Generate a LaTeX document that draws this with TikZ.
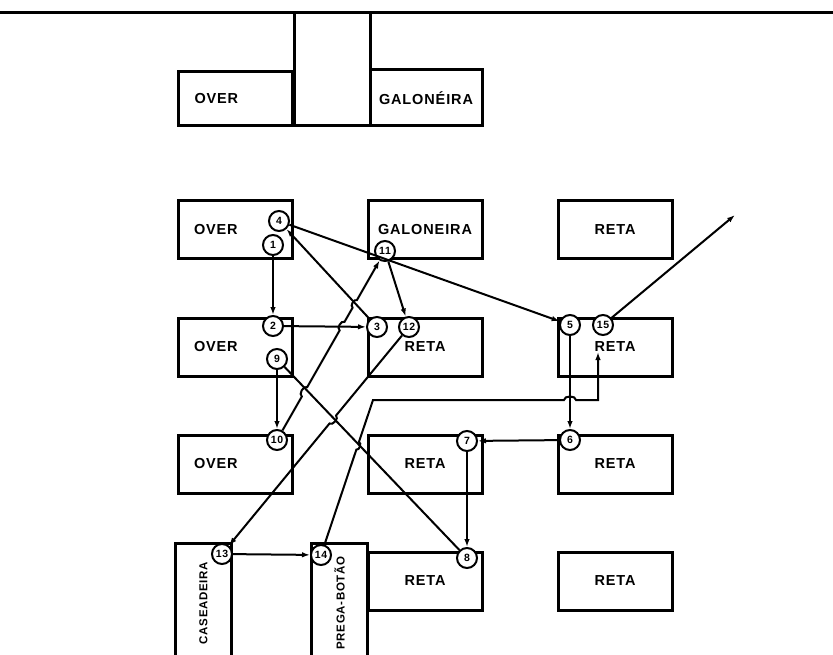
\documentclass[tikz,border=0pt]{standalone}
\usepackage{fontspec}
\setmainfont{Liberation Sans}[LetterSpace=6]
\usetikzlibrary{positioning,calc,arrows.meta}

\begin{document}
\begin{tikzpicture}[x=1pt, y=-1pt, node distance=56pt and 73pt, >={Latex[length=8pt,width=5.5pt]},
  every node/.style={font=\bfseries\fontsize{14.5}{16}\selectfont},
  box/.style={draw, line width=3pt, minimum width=114pt, minimum height=58pt, inner sep=0pt},
  overbox/.style={box, text width=82pt, inner xsep=16pt, align=left},
  col/.style={draw, line width=3pt, rotate=90, minimum width=120pt, minimum height=56pt, inner sep=0pt, font=\bfseries\fontsize{11.5}{12}\selectfont},
  num/.style={draw, circle, fill=white, line width=2pt, minimum size=20pt, inner sep=0pt, font=\bfseries\fontsize{10.5}{11}\selectfont},
  link/.style={->, line width=2pt}]

\useasboundingbox (0,0) rectangle (833,655);

\draw[line width=3pt] (0,13) -- (833,13);
\draw[line width=3pt] (294,13) rectangle (370,126);
\node (topover) [overbox, minimum height=54pt] at (235.5,99) {OVER};
\node (topgal) [box, minimum width=112pt, minimum height=56pt] at (426,98) {GALONÉIRA};

\node (over1) [overbox] at (235,230) {OVER};
\node (gal1) [box, right=of over1] {GALONEIRA};
\node (reta1) [box, right=of gal1] {RETA};
\node (over2) [overbox, below=of over1] {OVER};
\node (reta2a) [box, right=of over2] {RETA};
\node (reta2b) [box, right=of reta2a] {RETA};
\node (over3) [overbox, below=of over2] {OVER};
\node (reta3a) [box, right=of over3] {RETA};
\node (reta3b) [box, right=of reta3a] {RETA};
\node (reta4a) [box, below=of reta3a] {RETA};
\node (reta4b) [box, below=of reta3b] {RETA};
\node (cas) [col] at (203.5,603) {CASEADEIRA};
\node (prega) [col] at (339.5,603) {PREGA-BOTÃO};

\node (n1) [num] at (273,245) {1};
\node (n2) [num] at (273,326) {2};
\node (n3) [num] at (377,327) {3};
\node (n4) [num] at (279,221) {4};
\node (n5) [num] at (570,325) {5};
\node (n6) [num] at (570,440) {6};
\node (n7) [num] at (467,441) {7};
\node (n8) [num] at (467,558) {8};
\node (n9) [num] at (277,359) {9};
\node (n10) [num] at (277,440) {10};
\node (n11) [num] at (385,251) {11};
\node (n12) [num] at (409,327) {12};
\node (n13) [num] at (222,554) {13};
\node (n14) [num] at (321,555) {14};
\node (n15) [num] at (603,325) {15};

\coordinate (k1) at (373,400);
\coordinate (h1) at (564,400);
\coordinate (h2) at (576,400);
\coordinate (k2) at (598,400);
\coordinate (in15) at (598,352);
\coordinate (out) at (735,215);

\draw[link] (n1) -- (n2);
\draw[link] (n2) -- (n3);
\draw[link] (n3) -- (n4);
\draw[link] (n4) -- (n5);
\draw[link] (n5) -- (n6);
\draw[link] (n6) -- (n7);
\draw[link] (n7) -- (n8);
\draw[line width=2pt] (n8) -- (n9);
\draw[link] (n9) -- (n10);
\draw[link] (n10) -- ($(n10)!0.23!(n11)$) to[bend left=90] ($(n10)!0.28!(n11)$)
  -- ($(n10)!0.58!(n11)$) to[bend left=90] ($(n10)!0.625!(n11)$)
  -- ($(n10)!0.70!(n11)$) to[bend left=90] ($(n10)!0.74!(n11)$) -- (n11);
\draw[link] (n11) -- (n12);
\draw[link] (n12) -- ($(n12)!0.39!(n13)$) to[bend left=90] ($(n12)!0.425!(n13)$) -- (n13);
\draw[link] (n13) -- (n14);
\draw[link] (n14) -- ($(n14)!0.68!(k1)$) to[bend right=90] ($(n14)!0.73!(k1)$)
  -- (k1) -- (h1) to[bend left=90] (h2) -- (k2) -- (in15);
\draw[link] (n15) -- (out);

\end{tikzpicture}
\end{document}
